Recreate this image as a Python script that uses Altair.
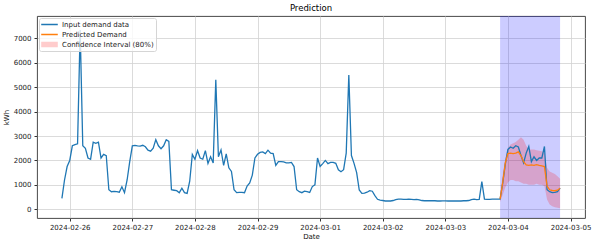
import altair as alt
import pandas as pd

# ---------------- data ----------------
start_time = "2024-02-25 21:00"

demand = [
    # 2024-02-25 21:00-23:00
    450, 1200, 1750,
    # 2024-02-26
    2000, 2600, 2650, 2680, 7340, 2600, 2500, 2100, 2050, 2750, 2700, 2750,
    2100, 2250, 2200, 800, 720, 730, 720, 700, 920, 680, 1200, 1950,
    # 2024-02-27
    2600, 2620, 2600, 2590, 2620, 2560, 2420, 2380, 2500, 2850, 2600, 2480,
    2600, 2850, 2780, 800, 780, 760, 680, 860, 680, 650, 1150, 2250,
    # 2024-02-28
    2050, 2400, 2100, 2050, 2400, 1880, 2150, 1900, 5300, 2150, 2430, 1800,
    2270, 1700, 1550, 800, 680, 690, 690, 680, 950, 1080, 1400, 2100,
    # 2024-02-29
    2250, 2330, 2350, 2280, 2420, 2300, 2280, 1800, 1950, 1950, 1940, 1900,
    1900, 1920, 1750, 800, 720, 680, 740, 720, 690, 930, 1000, 2100,
    # 2024-03-01
    1750, 1870, 2000, 1870, 1920, 1920, 1880, 1620, 1540, 1620, 2300, 5500,
    2200, 1880, 1500, 790, 650, 660, 700, 760, 740, 560, 410, 380,
    # 2024-03-02
    360, 340, 340, 340, 360, 400, 420, 420, 410, 410, 420, 410,
    400, 410, 390, 360, 350, 350, 350, 350, 350, 340, 340, 345,
    # 2024-03-03
    345, 340, 340, 345, 340, 340, 340, 350, 350, 360, 400, 420,
    400, 410, 1130, 420, 410, 410, 420, 420, 420, 420, 1070, 1850,
    # 2024-03-04 00:00-20:00
    2450, 2550, 2500, 2600, 2550, 2200, 1900, 2300, 2570, 1950, 2150, 2000,
    2100, 2100, 2570, 800, 720, 680, 690, 720, 870,
]

# last 24 hours (2024-03-03 21:00 .. 2024-03-04 20:00)
predicted = [420, 1100, 1900, 2280, 2300, 2280, 2300, 2350, 2200, 1950, 1820, 1800,
             1820, 1800, 1830, 1800, 1780, 1750, 950, 800, 770, 760, 780, 860]
ci_low = [300, 600, 900, 1100, 1200, 1200, 1150, 1150, 1100, 1050, 1050, 1000,
          1000, 1000, 1050, 1000, 1000, 950, 400, 200, 120, 80, 60, 40]
ci_high = [550, 1400, 2100, 2500, 2650, 2700, 2750, 2850, 2950, 2850, 2600, 2450,
           2450, 2450, 2420, 2400, 2380, 2300, 1700, 1550, 1500, 1450, 1350, 1250]

series_labels = ["Input demand data", "Predicted Demand", "Confidence Interval (80%)"]
series_colors = ["#1f77b4", "#ff7f0e", "#ffcccc"]
# legend glyphs: thin bar for the lines, flat patch for the band
legend_shapes = ["M-1,-0.1H1V0.1H-1Z", "M-1,-0.1H1V0.1H-1Z", "M-1,-0.33H1V0.33H-1Z"]

tick_days = ["2024-02-26", "2024-02-27", "2024-02-28", "2024-02-29",
             "2024-03-01", "2024-03-02", "2024-03-03", "2024-03-04", "2024-03-05"]
y_ticks = [0, 1000, 2000, 3000, 4000, 5000, 6000, 7000]
x_domain = ["2024-02-25T11:27:00", "2024-03-05T05:33:00"]
y_domain = [-356, 7912]

# ---------------- tables ----------------
fmt = "%Y-%m-%dT%H:%M:%S"
times = pd.date_range(start_time, periods=len(demand), freq="h")
pred_times = times[-len(predicted):]

lines_df = pd.concat([
    pd.DataFrame({"t": times.strftime(fmt), "v": demand, "series": series_labels[0]}),
    pd.DataFrame({"t": pred_times.strftime(fmt), "v": predicted, "series": series_labels[1]}),
])
ci_df = pd.DataFrame({"t": pred_times.strftime(fmt), "lo": ci_low, "hi": ci_high})
span_df = pd.DataFrame({"s": [pred_times[0].strftime(fmt)], "e": [pred_times[-1].strftime(fmt)]})
legend_df = pd.DataFrame({"series": pd.Series([], dtype=str)})

FONT = "DejaVu Sans"

x_scale = alt.Scale(domain=x_domain, nice=False)
y_scale = alt.Scale(domain=y_domain, nice=False, zero=False)
stroke_scale = alt.Scale(domain=series_labels[:2], range=series_colors[:2])
color_scale = alt.Scale(domain=series_labels, range=series_colors)
shape_scale = alt.Scale(domain=series_labels, range=legend_shapes)
x_axis = alt.Axis(values=[d + "T00:00:00" for d in tick_days], format="%Y-%m-%d",
                  title="Date", labelFlush=False, labelPadding=2.5, titlePadding=2)
y_axis = alt.Axis(values=y_ticks, format="d", title="kWh", labelPadding=3, titlePadding=4)

legend = alt.Legend(title=None, orient="top-left", offset=2, padding=2,
                    labelFont=FONT, labelFontSize=7, labelColor="#222222",
                    symbolSize=275, labelOffset=4, symbolStrokeWidth=0,
                    clipHeight=9, rowPadding=1, strokeColor="#d5d5d5",
                    fillColor="rgba(255,255,255,0.8)", cornerRadius=2)

span = alt.Chart(span_df).mark_rect(color="blue", opacity=0.2).encode(
    x=alt.X("s:T", scale=x_scale, axis=x_axis), x2="e:T")
band = alt.Chart(ci_df).mark_area(color="red", opacity=0.2).encode(
    x=alt.X("t:T", scale=x_scale),
    y=alt.Y("lo:Q", scale=y_scale, axis=y_axis), y2="hi:Q")
lines = alt.Chart(lines_df).mark_line(strokeWidth=1.3).encode(
    x=alt.X("t:T", scale=x_scale, axis=x_axis),
    y=alt.Y("v:Q", scale=y_scale, axis=y_axis),
    stroke=alt.Stroke("series:N", scale=stroke_scale, legend=None))
legend_layer = alt.Chart(legend_df).mark_point(filled=True, opacity=1).encode(
    color=alt.Color("series:N", scale=color_scale, legend=legend),
    shape=alt.Shape("series:N", scale=shape_scale, legend=legend))

chart = alt.layer(span, band, lines, legend_layer).properties(
    width=548, height=202,
    padding={"left": 37, "top": 16, "right": 9, "bottom": 27},
    autosize=alt.AutoSizeParams(type="none"),
    title=alt.TitleParams("Prediction", fontSize=8.5, fontWeight="normal", font=FONT,
                          color="black", anchor="middle", offset=4),
).configure_view(stroke="#333333", strokeWidth=0.9).configure_axis(
    labelFont=FONT, titleFont=FONT, labelFontSize=7, titleFontSize=7,
    titleFontWeight="normal", labelColor="#222222", titleColor="#111111",
    tickColor="#333333", tickSize=3, domain=False, grid=True,
    gridColor="#d2d2d2", gridWidth=0.8,
)

chart.save("out.html", embed_options={"renderer": "svg", "actions": False})
